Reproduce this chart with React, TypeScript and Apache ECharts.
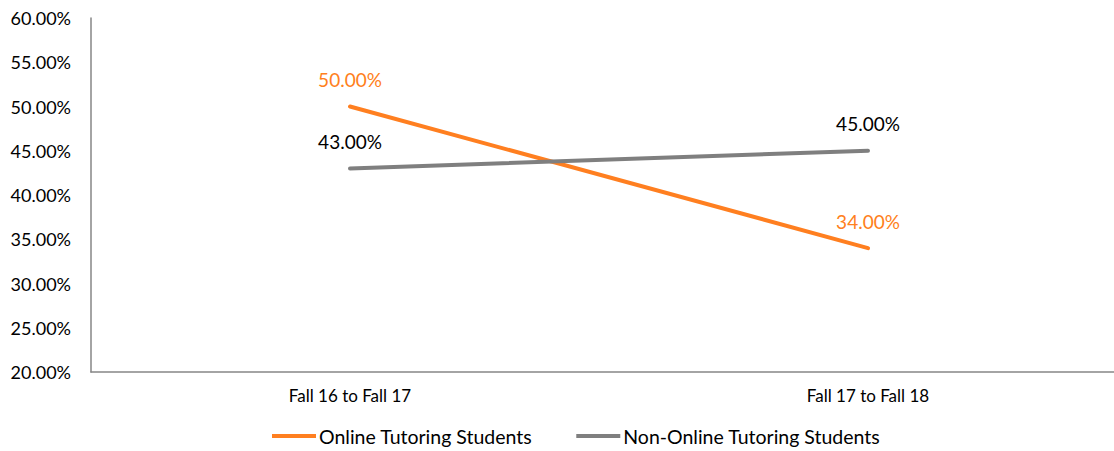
import React, { useEffect, useRef } from "react";
import * as echarts from "echarts";

const categories = ["Fall 16 to Fall 17", "Fall 17 to Fall 18"];
const onlineValues = [50, 34];
const nonOnlineValues = [43, 45];
const yTicks = { min: 20, max: 60, interval: 5 };

const FONT = "Lato, 'Noto Sans', sans-serif";
const ORANGE = "#FF7F20";
const GRAY = "#7F7F7F";

export default function App() {
  const ref = useRef<HTMLDivElement>(null);
  useEffect(() => {
    if (!ref.current) return;
    const chart = echarts.init(ref.current, undefined, { renderer: "svg" });
    const pct = (p: any) => Number(p.value).toFixed(2) + "%";
    chart.setOption({
      animation: false,
      textStyle: { fontFamily: FONT },
      grid: { left: 91, width: 1036, top: 18, height: 354, outerBoundsMode: "none", containLabel: false },
      legend: {
        top: 421,
        left: 267,
        itemWidth: 44,
        itemHeight: 4,
        itemGap: 44,
        icon: "rect",
        textStyle: { fontFamily: FONT, fontSize: 19.5, color: "#000", padding: [0, 0, 0, -2] },
        data: [
          { name: "Online Tutoring Students", itemStyle: { color: ORANGE } },
          { name: "Non-Online Tutoring Students", itemStyle: { color: GRAY } },
        ],
      },
      xAxis: {
        type: "category",
        data: categories,
        boundaryGap: true,
        axisLine: { lineStyle: { color: "#868686", width: 1.5 } },
        axisTick: { show: false },
        axisLabel: { fontFamily: FONT, fontSize: 17, color: "#000", margin: 15 },
      },
      yAxis: {
        type: "value",
        min: yTicks.min,
        max: yTicks.max,
        interval: yTicks.interval,
        axisLine: { show: true, lineStyle: { color: "#868686", width: 1.5 } },
        axisTick: { show: false },
        splitLine: { show: false },
        axisLabel: {
          fontFamily: FONT,
          fontSize: 18,
          color: "#000",
          margin: 20,
          formatter: (v: number) => v.toFixed(2) + "%",
        },
      },
      series: [
        {
          name: "Online Tutoring Students",
          type: "line",
          data: onlineValues,
          symbol: "circle",
          symbolSize: 1,
          showSymbol: true,
          lineStyle: { color: ORANGE, width: 4, cap: "round" },
          itemStyle: { color: ORANGE },
          label: {
            show: true,
            position: "top",
            distance: 17,
            fontFamily: FONT,
            fontSize: 19,
            color: ORANGE,
            formatter: pct,
          },
        },
        {
          name: "Non-Online Tutoring Students",
          type: "line",
          data: nonOnlineValues,
          symbol: "circle",
          symbolSize: 1,
          showSymbol: true,
          lineStyle: { color: GRAY, width: 4, cap: "round" },
          itemStyle: { color: GRAY },
          label: {
            show: true,
            position: "top",
            distance: 17,
            fontFamily: FONT,
            fontSize: 19,
            color: "#000",
            formatter: pct,
          },
        },
      ],
    });
    return () => chart.dispose();
  }, []);
  return <div ref={ref} style={{ width: 1114, height: 451, position: "absolute", left: 0, top: 0, overflow: "hidden" }} />;
}
